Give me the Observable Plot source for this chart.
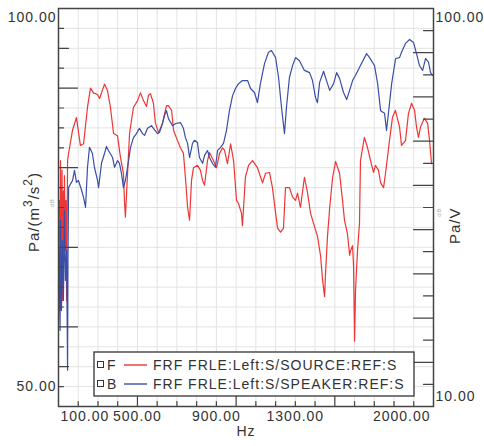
<!DOCTYPE html>
<html><head><meta charset="utf-8">
<script src="https://cdn.jsdelivr.net/npm/d3@7"></script>
<script src="https://cdn.jsdelivr.net/npm/@observablehq/plot@0.6"></script>
<style>body{margin:0;background:#fff;}</style>
</head><body><div id="chart"></div>
<script>
// ---- data ----
const redHz = [100,105,108,110,115,118,120,125,128,130,135,138,141,146,151,171,191,211,227,247,262,277,298,308,318,333,348,363,379,399,414,429,434,439,450,460,480,500,515,531,546,556,566,581,591,607,627,647,657,673,683,703,718,733,743,754,764,774,784,804,819,830,840,855,865,885,901,916,931,941,956,972,987,1002,1012,1027,1032,1047,1063,1083,1108,1134,1149,1169,1184,1200,1210,1225,1240,1250,1270,1286,1301,1311,1326,1346,1362,1377,1392,1412,1428,1438,1448,1453,1463,1474,1489,1504,1524,1539,1549,1564,1575,1580,1590,1595,1600,1605,1615,1625,1630,1650,1666,1681,1696,1706,1721,1732,1747,1757,1777,1792,1807,1828,1838,1858,1873,1889,1904,1914,1924,1934,1954,1970,1980,1990];
const redDb = [64.6,75.9,62.1,80.9,65.8,79.7,63.3,77.1,68.3,79.0,69.6,75.9,63.3,80.9,81.8,84.7,86.3,82.8,83.0,87.6,90.0,89.4,89.2,88.7,89.4,90.5,89.7,87.6,84.3,84.0,81.3,79.3,75.9,73.8,79.3,84.3,87.6,88.4,89.4,88.4,87.7,89.1,89.3,88.1,85.6,84.4,85.6,87.8,87.8,87.2,84.7,83.4,82.5,81.8,78.8,75.0,73.4,78.4,80.0,80.3,79.7,78.4,77.8,80.9,81.9,80.9,80.0,81.8,82.5,82.2,80.5,83.0,80.9,75.9,75.5,74.3,72.7,78.8,80.3,80.9,80.0,78.1,79.3,79.4,77.5,74.3,72.4,71.9,72.4,77.5,77.5,76.3,75.9,76.8,75.0,78.8,76.8,74.3,73.0,71.4,68.9,65.9,63.8,66.7,71.4,75.0,78.8,80.8,79.3,75.9,73.4,71.7,69.0,69.6,70.2,67.6,58.2,64.6,69.6,73.0,80.9,83.8,82.5,80.9,79.4,80.3,79.7,78.1,77.5,79.3,83.4,86.3,87.2,85.1,82.8,83.4,86.8,88.1,87.2,85.1,83.8,85.1,86.2,85.6,83.4,80.5];
const blueHz = [100,105,108,110,115,120,125,130,135,141,143,146,148,151,171,181,191,201,217,227,237,247,257,272,282,298,303,318,333,343,353,374,384,399,409,419,429,439,450,465,480,495,510,526,536,551,571,581,602,612,627,637,647,657,678,693,718,733,743,754,764,779,789,804,814,830,840,855,865,880,895,906,921,936,951,966,982,997,1012,1032,1058,1073,1093,1108,1123,1144,1164,1179,1200,1215,1230,1245,1255,1270,1286,1301,1321,1346,1372,1387,1402,1412,1423,1443,1458,1474,1494,1509,1524,1544,1560,1575,1590,1605,1630,1661,1676,1701,1717,1732,1752,1762,1777,1788,1808,1828,1838,1858,1879,1899,1914,1929,1945,1960,1975,1985,1995];
const blueDb = [29.5,45.3,27.2,52.1,31.7,47.5,34.0,54.3,38.5,45.3,34.0,18.2,43.0,59.5,61.1,63.4,60.7,61.1,58.9,57.3,55.0,64.1,68.6,67.2,64.1,61.1,59.5,65.0,67.2,68.8,67.9,66.3,64.1,65.6,65.0,62.7,59.5,61.1,64.1,68.6,70.8,71.7,72.9,71.7,71.3,72.9,73.5,72.9,71.7,72.0,74.0,75.8,76.9,75.1,73.5,74.0,74.2,72.9,70.8,69.5,66.3,69.5,70.2,69.7,66.3,65.0,66.8,67.9,66.3,65.0,64.1,67.9,68.6,69.5,72.4,76.9,80.3,81.9,83.0,83.7,83.7,81.9,81.0,78.7,83.0,87.6,90.1,90.5,88.9,84.4,77.6,71.7,77.6,84.4,87.1,88.9,88.2,86.0,85.5,83.7,79.9,78.7,83.3,85.8,83.7,81.5,83.0,85.5,84.2,81.0,79.4,81.5,83.7,84.9,87.1,89.8,88.9,87.1,83.0,76.9,76.3,72.4,78.5,83.0,88.7,88.9,90.1,92.1,93.0,92.3,89.8,87.1,86.0,88.7,87.8,85.5,84.9];
const xLabels = [100, 500, 900, 1300, 2000];
const leftLabels = [100, 50];
const rightLabels = [100, 10];
const legendKeys = ["F", "B"];
const legendNames = ["FRF FRLE:Left:S/SOURCE:REF:S", "FRF FRLE:Left:S/SPEAKER:REF:S"];
const colors = ["#ee3535", "#3a4ea6"];

// right axis (Pa/V, 10..100) mapped onto the left axis (50..100)
const toLeft = r => 50 + (r - 10) * 50 / 90;

const redRows = redHz.map((h, i) => ({hz: h, db: redDb[i]}));
const blueRows = blueHz.map((h, i) => ({hz: h, db: blueDb[i]}));

const xMinor = d3.range(200, 2000, 100).filter(v => v % 500 !== 0);
const xMajor = [500, 1000, 1500];
const yGrid = d3.range(52.5, 100, 2.5);
const yLong = [60, 70, 80, 90];
const yMed = [55, 95];
const yShort = yGrid.filter(v => !yLong.includes(v) && !yMed.includes(v));
const rLong = [20, 30, 40, 50, 60, 70, 80, 90];
const rShort = [15, 25, 35, 45, 55, 65, 75, 85, 95];

const tickShape = {draw(context, l) { context.moveTo(0, 0); context.lineTo(0, -l); }};
const axisColor = "#444";
const textColor = "#333";
const fmt = d => d.toFixed(2);

const chart = Plot.plot({
  width: 484, height: 446,
  marginLeft: 58, marginRight: 51, marginTop: 8, marginBottom: 40,
  style: {fontFamily: "Liberation Sans, Arial, sans-serif", fontSize: "14px", letterSpacing: "1px", color: textColor, background: "#fff"},
  x: {domain: [100, 2000], axis: null},
  y: {domain: [50, 100], axis: null},
  marks: [
    Plot.gridX(d3.range(200, 2000, 100), {stroke: "#e3e3e3", strokeOpacity: 1}),
    Plot.gridY(yGrid, {stroke: "#e3e3e3", strokeOpacity: 1}),
    Plot.line(redRows, {x: "hz", y: "db", stroke: colors[0], strokeWidth: 1.2}),
    Plot.line(blueRows, {x: "hz", y: d => toLeft(d.db), stroke: colors[1], strokeWidth: 1.2}),
    // bottom ticks (inward)
    Plot.vector(xMinor, {x: d => d, y: 50, length: 5, rotate: 0, anchor: "start", shape: tickShape, stroke: axisColor, strokeWidth: 1.2}),
    Plot.vector(xMajor, {x: d => d, y: 50, length: 10, rotate: 0, anchor: "start", shape: tickShape, stroke: axisColor, strokeWidth: 1.2}),
    // left ticks
    Plot.vector(yShort, {x: 100, y: d => d, length: 5, rotate: 90, anchor: "start", shape: tickShape, stroke: axisColor, strokeWidth: 1.2}),
    Plot.vector(yMed, {x: 100, y: d => d, length: 10, rotate: 90, anchor: "start", shape: tickShape, stroke: axisColor, strokeWidth: 1.2}),
    Plot.vector(yLong, {x: 100, y: d => d, length: 19, rotate: 90, anchor: "start", shape: tickShape, stroke: axisColor, strokeWidth: 1.2}),
    // right ticks
    Plot.vector(rShort, {x: 2000, y: d => toLeft(d), length: 10, rotate: -90, anchor: "start", shape: tickShape, stroke: axisColor, strokeWidth: 1.2}),
    Plot.vector(rLong, {x: 2000, y: d => toLeft(d), length: 20, rotate: -90, anchor: "start", shape: tickShape, stroke: axisColor, strokeWidth: 1.2}),
    Plot.frame({stroke: axisColor, strokeWidth: 1.5}),
    // x tick labels
    Plot.text(xLabels.slice(0, 1), {x: d => d, y: 50, text: fmt, textAnchor: "start", dx: 2, dy: 10, fill: textColor}),
    Plot.text(xLabels.slice(1, 4), {x: d => d, y: 50, text: fmt, textAnchor: "middle", dy: 10, fill: textColor}),
    Plot.text(xLabels.slice(4), {x: d => d, y: 50, text: fmt, textAnchor: "end", dx: -3, dy: 10, fill: textColor}),
    // left labels
    Plot.text(leftLabels.slice(0, 1), {x: 100, y: d => d, text: fmt, textAnchor: "end", dx: -2, dy: 9, fill: textColor}),
    Plot.text(leftLabels.slice(1), {x: 100, y: d => d, text: fmt, textAnchor: "end", dx: -2, dy: -20, fill: textColor}),
    // right labels
    Plot.text(rightLabels.slice(0, 1), {x: 2000, y: d => toLeft(d), text: fmt, textAnchor: "start", dx: 2, dy: 9, fill: textColor}),
    Plot.text(rightLabels.slice(1), {x: 2000, y: d => toLeft(d), text: fmt, textAnchor: "start", dx: 2, dy: -10, fill: textColor}),
    // axis titles
    Plot.text(["Hz"], {frameAnchor: "bottom", text: d => d, dy: 29, fill: textColor}),
    Plot.text(["Pa/V"], {frameAnchor: "right", text: d => d, rotate: -90, dx: 22, fill: textColor, fontSize: 15}),
    Plot.text(["dB"], {frameAnchor: "left", text: d => d, rotate: -90, dx: -6, fill: "#aaa", fontSize: 6, letterSpacing: "0px"}),
    Plot.text(["dB"], {frameAnchor: "right", text: d => d, rotate: -90, dx: 6, fill: "#aaa", fontSize: 6, letterSpacing: "0px"})
  ]
});
document.getElementById("chart").appendChild(chart);

// left title with superscripts
const svg = d3.select(chart);
const lt = svg.append("text")
  .attr("transform", "translate(39,212) rotate(-90)")
  .attr("text-anchor", "middle")
  .attr("fill", textColor)
  .attr("font-size", 15);
lt.append("tspan").text("Pa/(m");
lt.append("tspan").attr("dy", -7).attr("font-size", 12).text("3");
lt.append("tspan").attr("dy", 7).text("/s");
lt.append("tspan").attr("dy", -7).attr("font-size", 12).text("2");
lt.append("tspan").attr("dy", 7).text(")");

// legend box inside the plot
const lg = svg.append("g").attr("font-size", 14).attr("fill", textColor).attr("text-anchor", "start");
lg.append("rect").attr("x", 94).attr("y", 352).attr("width", 320).attr("height", 44)
  .attr("fill", "#fff").attr("stroke", "#333").attr("stroke-width", 1.3);
legendKeys.forEach((k, i) => {
  const cy = 365 + i * 19;
  lg.append("rect").attr("x", 97.5).attr("y", cy - 3.5).attr("width", 6).attr("height", 6)
    .attr("fill", "#fff").attr("stroke", "#333").attr("stroke-width", 1);
  lg.append("text").attr("x", 107).attr("y", cy + 5).attr("text-anchor", "start").text(k);
  lg.append("line").attr("x1", 124).attr("x2", 147).attr("y1", cy).attr("y2", cy)
    .attr("stroke", colors[i]).attr("stroke-width", 1.4);
  lg.append("text").attr("x", 153).attr("y", cy + 5).attr("text-anchor", "start").text(legendNames[i]);
});
</script>
</body></html>
